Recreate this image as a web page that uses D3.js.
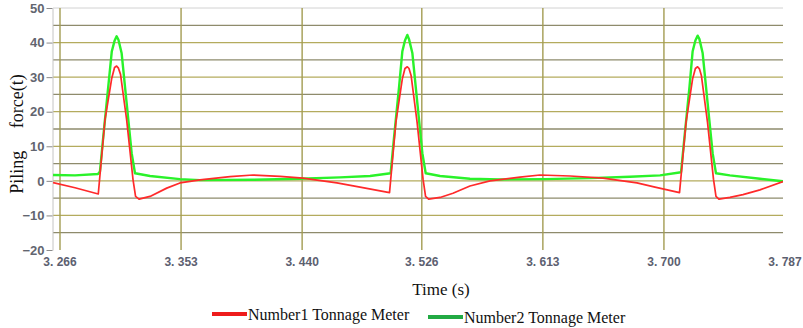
<!DOCTYPE html>
<html>
<head>
<meta charset="utf-8">
<script src="https://cdn.jsdelivr.net/npm/d3@7"></script>
<style>
  body { margin: 0; background: #fff; }
  svg { display: block; }
</style>
</head>
<body>
<div id="chart-area"></div>
<script>
// tick values and labels
var xTicks = [3.266, 3.353, 3.440, 3.526, 3.613, 3.700, 3.787];
var xTickLabels = ['3. 266', '3. 353', '3. 440', '3. 526', '3. 613', '3. 700', '3. 787'];
var yTicks = [50, 40, 30, 20, 10, 0, -10, -20];
var yGrid = [45, 40, 35, 30, 25, 20, 15, 10, 5, 0, -5, -10, -15];

// Number1 tonnage meter (red), time in s, force in t
var redTime = [3.2610, 3.2768, 3.2935, 3.2983, 3.3032, 3.3052, 3.3067, 3.3080, 3.3095, 3.3139,
    3.3185, 3.3203, 3.3228, 3.3307, 3.3427, 3.3522, 3.3666, 3.3882, 3.4047, 3.4241,
    3.4406, 3.4650, 3.4816, 3.5028, 3.5074, 3.5120, 3.5139, 3.5156, 3.5168, 3.5183,
    3.5226, 3.5269, 3.5287, 3.5309, 3.5391, 3.5484, 3.5606, 3.5750, 3.5966, 3.6109,
    3.6325, 3.6562, 3.6806, 3.6936, 3.7112, 3.7159, 3.7206, 3.7226, 3.7242, 3.7255,
    3.7269, 3.7313, 3.7356, 3.7374, 3.7395, 3.7474, 3.7568, 3.7690, 3.7856];
var redForce = [-0.5, -2.0, -3.8, 17.6, 29.7, 32.8, 33.2, 32.6, 30.8, 17.6,
    0.3, -4.5, -5.3, -4.5, -2.1, -0.6, 0.3, 1.2, 1.7, 1.3,
    0.8, -0.6, -1.8, -3.4, 17.0, 29.5, 32.5, 33.0, 32.5, 30.5,
    17.0, 0.5, -4.5, -5.3, -4.8, -3.6, -1.5, 0.0, 1.1, 1.7,
    1.4, 0.8, -0.6, -1.8, -3.4, 17.0, 29.5, 32.5, 33.0, 32.4,
    30.5, 17.0, 0.5, -4.5, -5.3, -4.8, -4.0, -2.6, -0.2];

// Number2 tonnage meter (green)
var greenTime = [3.2610, 3.2768, 3.2933, 3.2947, 3.2971, 3.3007, 3.3032, 3.3052, 3.3067, 3.3080,
    3.3103, 3.3139, 3.3175, 3.3199, 3.3307, 3.3522, 3.3666, 3.4047, 3.4385, 3.4672,
    3.4888, 3.5036, 3.5061, 3.5097, 3.5120, 3.5139, 3.5156, 3.5168, 3.5192, 3.5228,
    3.5264, 3.5288, 3.5391, 3.5606, 3.5822, 3.6145, 3.6469, 3.6756, 3.6972, 3.7123,
    3.7148, 3.7184, 3.7206, 3.7226, 3.7242, 3.7255, 3.7278, 3.7314, 3.7350, 3.7374,
    3.7474, 3.7690, 3.7856];
var greenForce = [1.7, 1.6, 2.0, 2.7, 12.8, 27.3, 37.4, 40.5, 41.8, 40.8,
    36.9, 22.5, 8.0, 2.2, 1.4, 0.5, 0.2, 0.3, 0.6, 1.0,
    1.4, 2.2, 12.8, 27.3, 37.4, 40.6, 42.2, 41.0, 37.0, 22.5,
    8.0, 2.2, 1.4, 0.6, 0.4, 0.5, 0.8, 1.2, 1.6, 2.5,
    12.8, 27.3, 37.4, 40.6, 42.0, 41.0, 37.0, 22.5, 8.0, 2.2,
    1.6, 0.6, -0.1];

var seriesNames = ['Number1 Tonnage Meter', 'Number2 Tonnage Meter'];

var width = 803, height = 328;
var plotLeft = 53, plotRight = 783, plotTop = 8, plotBottom = 250;

var svg = d3.select('#chart-area')
    .append('svg')
    .attr('width', width)
    .attr('height', height);

var x = d3.scaleLinear().domain([3.266, 3.787]).range([60, 785]);
var y = d3.scaleLinear().domain([-20, 50]).range([plotBottom, plotTop]);

svg.append('clipPath').attr('id', 'plot-clip')
    .append('rect')
    .attr('x', plotLeft).attr('y', plotTop)
    .attr('width', plotRight - plotLeft).attr('height', plotBottom - plotTop);

// horizontal grid
svg.append('g').selectAll('line')
    .data(yGrid)
    .enter()
    .append('line')
    .attr('x1', plotLeft).attr('x2', plotRight)
    .attr('y1', function (d) { return y(d); })
    .attr('y2', function (d) { return y(d); })
    .attr('stroke', function (d) { return d % 10 === 0 ? '#b4ab5e' : '#8e8b6c'; })
    .attr('stroke-width', 1.3);

// top border
svg.append('line')
    .attr('x1', plotLeft).attr('x2', plotRight)
    .attr('y1', y(50)).attr('y2', y(50))
    .attr('stroke', '#d2d2d2');

// vertical grid
svg.append('g').selectAll('line')
    .data(xTicks.filter(function (d) { return x(d) <= plotRight; }))
    .enter()
    .append('line')
    .attr('x1', function (d) { return x(d); })
    .attr('x2', function (d) { return x(d); })
    .attr('y1', plotTop).attr('y2', plotBottom)
    .attr('stroke', '#a39c52')
    .attr('stroke-width', 1.4);

// y axis
var yAxisCall = d3.axisLeft(y)
    .tickValues(yTicks)
    .tickSize(6)
    .tickPadding(2)
    .tickSizeOuter(0);
var yAxis = svg.append('g')
    .attr('class', 'y-axis')
    .attr('transform', 'translate(' + (plotLeft - 0.5) + ',0)')
    .call(yAxisCall);
yAxis.select('.domain').attr('stroke', '#c4c4c4');
yAxis.selectAll('.tick line').attr('stroke', '#8a8a8a');
yAxis.selectAll('.tick text')
    .attr('font-family', 'Liberation Sans, Arial, sans-serif')
    .attr('font-size', 13)
    .attr('font-weight', 'bold')
    .attr('fill', '#62656f');

// x tick labels
svg.append('g').selectAll('text')
    .data(xTicks)
    .enter()
    .append('text')
    .attr('x', function (d) { return x(d); })
    .attr('y', 266)
    .attr('text-anchor', 'middle')
    .attr('font-family', 'Liberation Sans, Arial, sans-serif')
    .attr('font-size', 12)
    .attr('font-weight', 'bold')
    .attr('fill', '#5c6070')
    .text(function (d, i) { return xTickLabels[i]; });

// series lines
var plot = svg.append('g').attr('clip-path', 'url(#plot-clip)');

var line = d3.line()
    .x(function (d) { return x(d[0]); })
    .y(function (d) { return y(d[1]); });

plot.append('path')
    .datum(d3.zip(greenTime, greenForce))
    .attr('d', line)
    .attr('fill', 'none')
    .attr('stroke', '#2af22a')
    .attr('stroke-width', 2.4)
    .attr('stroke-linejoin', 'round');

plot.append('path')
    .datum(d3.zip(redTime, redForce))
    .attr('d', line)
    .attr('fill', 'none')
    .attr('stroke', '#ff2a2a')
    .attr('stroke-width', 1.7)
    .attr('stroke-linejoin', 'round');

// axis titles
svg.append('text')
    .attr('transform', 'translate(23,134) rotate(-90)')
    .attr('text-anchor', 'middle')
    .attr('font-family', 'Liberation Serif, Times New Roman, serif')
    .attr('font-size', 18)
    .style('white-space', 'pre')
    .attr('fill', '#111')
    .text('Piling     force(t)');

svg.append('text')
    .attr('x', 441)
    .attr('y', 295)
    .attr('text-anchor', 'middle')
    .attr('font-family', 'Liberation Serif, Times New Roman, serif')
    .attr('font-size', 17)
    .attr('fill', '#111')
    .text('Time (s)');

// legend
var legend = [
    { name: seriesNames[0], color: '#ee1c1c', x: 212, y: 314 },
    { name: seriesNames[1], color: '#22aa44', x: 428, y: 317 }
];
var lg = svg.append('g').selectAll('g')
    .data(legend)
    .enter()
    .append('g');
lg.append('line')
    .attr('x1', function (d) { return d.x; })
    .attr('x2', function (d) { return d.x + 35; })
    .attr('y1', function (d) { return d.y; })
    .attr('y2', function (d) { return d.y; })
    .attr('stroke', function (d) { return d.color; })
    .attr('stroke-width', 4);
lg.append('text')
    .attr('x', function (d) { return d.x + 36; })
    .attr('y', function (d) { return d.y + 6; })
    .attr('font-family', 'Liberation Serif, Times New Roman, serif')
    .attr('font-size', 16)
    .attr('fill', '#111')
    .text(function (d) { return d.name; });
</script>
</body>
</html>
